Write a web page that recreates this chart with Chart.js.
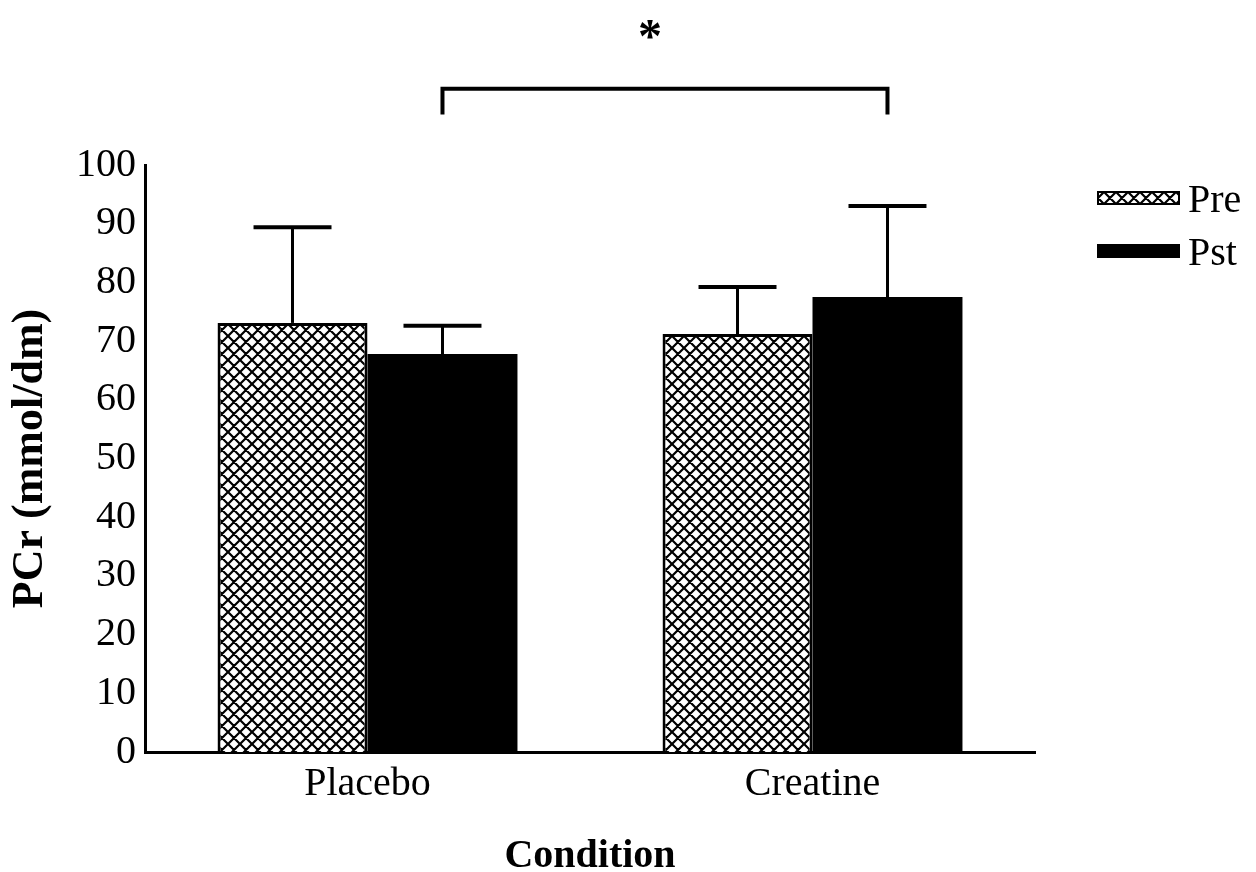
<!DOCTYPE html>
<html>
<head>
<meta charset="utf-8">
<title>PCr by condition</title>
<script src="https://cdn.jsdelivr.net/npm/chart.js@4.4.1/dist/chart.umd.min.js"></script>
<style>
  html, body { margin: 0; padding: 0; background: #fff; }
  #wrap { width: 1256px; height: 872px; }
</style>
</head>
<body>
<div id="wrap"><canvas id="pcrChart" width="1256" height="872"></canvas></div>
<script>
const conditions = ['Placebo', 'Creatine'];
const seriesNames = ['Pre', 'Pst'];
const preMeans = [73.1, 71.2];
const pstMeans = [67.8, 77.5];
const preErr = [16.3, 8.0];
const pstErr = [4.8, 15.5];
const sigLabel = '*';

const serif = "'Liberation Serif', 'Times New Roman', serif";

// diagonal crosshatch used for the Pre bars
function makeHatch() {
  const s = 12;
  const c = document.createElement('canvas');
  c.width = s;
  c.height = s;
  const g = c.getContext('2d');
  g.fillStyle = '#fff';
  g.fillRect(0, 0, s, s);
  g.strokeStyle = '#000';
  g.lineWidth = 2.2;
  g.beginPath();
  for (let k = -1; k <= 1; k++) {
    g.moveTo(k * s - 2, -2); g.lineTo(k * s + s + 2, s + 2);
    g.moveTo(k * s + s + 2, -2); g.lineTo(k * s - 2, s + 2);
  }
  g.stroke();
  return g.createPattern(c, 'repeat');
}

const ctx = document.getElementById('pcrChart').getContext('2d');
const hatch = makeHatch();

const errors = [preErr, pstErr];

// upward error bars with caps
const errorBars = {
  id: 'errorBars',
  afterDatasetsDraw(chart) {
    const y = chart.scales.y;
    const c = chart.ctx;
    c.save();
    c.strokeStyle = '#000';
    chart.data.datasets.forEach((ds, i) => {
      chart.getDatasetMeta(i).data.forEach((bar, j) => {
        const top = y.getPixelForValue(ds.data[j] + errors[i][j]);
        const half = bar.width * 0.26;
        c.lineWidth = 3;
        c.beginPath();
        c.moveTo(bar.x, bar.y);
        c.lineTo(bar.x, top);
        c.stroke();
        c.lineWidth = 4;
        c.beginPath();
        c.moveTo(bar.x - half, top);
        c.lineTo(bar.x + half, top);
        c.stroke();
      });
    });
    c.restore();
  }
};

// significance bracket between the two Pst bars
const bracket = {
  id: 'bracket',
  afterDraw(chart) {
    const y = chart.scales.y;
    const meta = chart.getDatasetMeta(1);
    const x1 = meta.data[0].x;
    const x2 = meta.data[1].x;
    const yTop = y.getPixelForValue(113);
    const yEnd = y.getPixelForValue(108.6);
    const c = chart.ctx;
    c.save();
    c.strokeStyle = '#000';
    c.lineWidth = 4;
    c.lineJoin = 'miter';
    c.beginPath();
    c.moveTo(x1, yEnd);
    c.lineTo(x1, yTop);
    c.lineTo(x2, yTop);
    c.lineTo(x2, yEnd);
    c.stroke();
    c.fillStyle = '#000';
    c.font = 'bold 48px ' + serif;
    c.textAlign = 'center';
    c.textBaseline = 'alphabetic';
    c.fillText(sigLabel, (x1 + x2) / 2 - 15, y.getPixelForValue(123.3) + 24);
    c.restore();
  }
};

// legend on the right
const sideLegend = {
  id: 'sideLegend',
  afterDraw(chart) {
    const c = chart.ctx;
    const left = chart.chartArea.right + 62;
    const rows = [198, 251];
    c.save();
    c.font = '40px ' + serif;
    c.textBaseline = 'middle';
    c.textAlign = 'left';
    chart.data.datasets.forEach((ds, i) => {
      const cy = rows[i];
      c.fillStyle = ds.backgroundColor;
      c.fillRect(left, cy - 7, 83, 14);
      if (ds.borderWidth) {
        c.strokeStyle = '#000';
        c.lineWidth = 2;
        c.strokeRect(left + 1, cy - 6, 81, 12);
      }
      c.fillStyle = '#000';
      c.fillText(ds.label, left + 91, cy + 3);
    });
    c.restore();
  }
};

new Chart(ctx, {
  type: 'bar',
  data: {
    labels: conditions,
    datasets: [
      {
        label: seriesNames[0],
        data: preMeans,
        backgroundColor: hatch,
        borderColor: '#000',
        borderWidth: 3,
        categoryPercentage: 0.674,
        barPercentage: 1.0
      },
      {
        label: seriesNames[1],
        data: pstMeans,
        backgroundColor: '#000',
        borderWidth: 0,
        categoryPercentage: 0.674,
        barPercentage: 1.0
      }
    ]
  },
  options: {
    responsive: false,
    animation: false,
    layout: { padding: { top: 165, right: 221, bottom: 0, left: 0 } },
    plugins: {
      legend: { display: false },
      tooltip: { enabled: false }
    },
    scales: {
      x: {
        grid: { display: false, drawTicks: false },
        border: { display: true, color: '#000', width: 3 },
        ticks: { color: '#000', padding: 8, font: { family: serif, size: 40 } },
        title: {
          display: true,
          text: 'Condition',
          color: '#000',
          padding: 0,
          font: { family: serif, size: 40, weight: 'bold', lineHeight: 0.75 }
        },
        afterFit: (scale) => { scale.height = 120; }
      },
      y: {
        min: 0,
        max: 100,
        grid: { display: false, drawTicks: false },
        border: { display: true, color: '#000', width: 3 },
        ticks: { stepSize: 10, color: '#000', padding: 9, font: { family: serif, size: 40 } },
        title: {
          display: true,
          text: 'PCr (mmol/dm)',
          color: '#000',
          padding: { top: 4, bottom: 0 },
          font: { family: serif, size: 44, weight: 'bold' }
        },
        afterFit: (scale) => { scale.width = 145; }
      }
    }
  },
  plugins: [errorBars, bracket, sideLegend]
});
</script>
</body>
</html>
